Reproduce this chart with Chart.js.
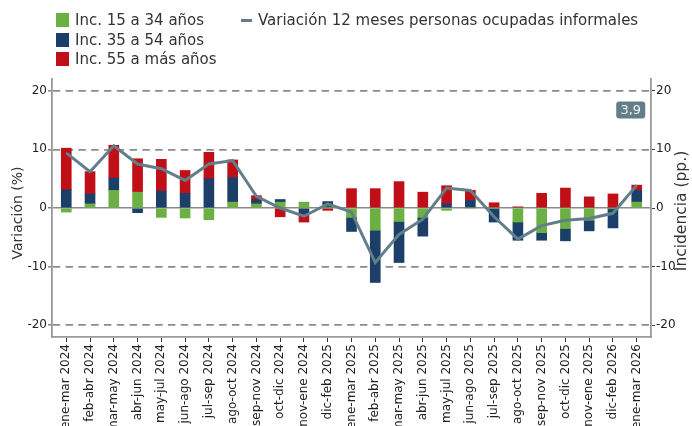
<!DOCTYPE html>
<html>
<head>
<meta charset="utf-8">
<script src="https://cdn.jsdelivr.net/npm/chart.js@4.4.1/dist/chart.umd.min.js"></script>
<style>
  html, body { margin: 0; padding: 0; background: #fff; overflow: hidden; }
  .wrap { position: relative; width: 692px; height: 426px; }
  .legend { position: absolute; left: 0; top: 0; font: 15px "DejaVu Sans"; color: #333; }
  .legend-item { position: absolute; display: flex; align-items: center; height: 20px; white-space: nowrap; }
  .legend-box { width: 13px; height: 14px; margin-right: 6px; }
  .legend-line { width: 11px; height: 3px; margin-right: 6px; }
</style>
</head>
<body>
<div class="wrap">
  <canvas id="chart"></canvas>
  <div class="legend"></div>
</div>
<script>
const categories = [
  'ene-mar 2024', 'feb-abr 2024', 'mar-may 2024', 'abr-jun 2024', 'may-jul 2024',
  'jun-ago 2024', 'jul-sep 2024', 'ago-oct 2024', 'sep-nov 2024', 'oct-dic 2024',
  'nov-ene 2024', 'dic-feb 2025', 'ene-mar 2025', 'feb-abr 2025', 'mar-may 2025',
  'abr-jun 2025', 'may-jul 2025', 'jun-ago 2025', 'jul-sep 2025', 'ago-oct 2025',
  'sep-nov 2025', 'oct-dic 2025', 'nov-ene 2025', 'dic-feb 2026', 'ene-mar 2026'
];

const inc15a34 = [-0.7, 0.7, 3.0, 2.7, -1.6, -1.7, -2.0, 1.0, 0.7, 1.0, 1.0, 0.1, -1.6,
  -3.8, -2.3, -1.6, -0.4, 0.0, 0.0, -2.4, -4.2, -3.5, -2.1, -0.1, 1.0];
const inc35a54 = [3.1, 1.7, 2.1, -0.8, 2.9, 2.5, 5.0, 4.2, 0.7, 0.45, -1.0, 1.0, -2.4,
  -8.9, -7.0, -3.2, 0.7, 1.3, -2.4, -3.1, -1.3, -2.1, -1.8, -3.3, 2.0];
const inc55mas = [7.1, 3.8, 5.6, 5.7, 5.4, 3.9, 4.5, 3.0, 0.7, -1.5, -1.4, -0.4, 3.3,
  3.3, 4.5, 2.7, 3.1, 1.7, 0.9, 0.2, 2.5, 3.4, 1.9, 2.4, 0.9];
const variacion = [9.4, 6.2, 10.6, 7.5, 6.7, 4.7, 7.5, 8.1, 2.0, 0.0, -1.4, 0.7, -0.7,
  -9.3, -4.5, -1.9, 3.4, 3.0, -1.5, -5.3, -3.0, -2.1, -1.8, -0.9, 3.9];

const yTicks = [-20, -10, 0, 10, 20];

const GREEN = '#6cb043';
const BLUE = '#1c3f69';
const RED = '#c00f17';
const LINE = '#627f89';

Chart.defaults.font.family = '"DejaVu Sans"';

const toPoints = (arr) => arr.map((v, i) => ({ x: i, y: v }));

// y titles: matplotlib style, both read bottom to top
const axisTitles = {
  id: 'axisTitles',
  afterDraw(chart) {
    const { ctx, chartArea } = chart;
    const mid = chartArea.top + chartArea.height / 2;
    ctx.save();
    ctx.fillStyle = '#333';
    ctx.textAlign = 'center';
    ctx.textBaseline = 'middle';
    ctx.font = '14px "DejaVu Sans"';
    ctx.translate(18.5, mid + 5);
    ctx.rotate(-Math.PI / 2);
    ctx.fillText('Variación (%)', 0, 0);
    ctx.restore();

    ctx.save();
    ctx.fillStyle = '#333';
    ctx.textAlign = 'center';
    ctx.textBaseline = 'middle';
    ctx.font = '15.5px "DejaVu Sans"';
    ctx.translate(682, mid + 3);
    ctx.rotate(-Math.PI / 2);
    ctx.fillText('Incidencia (pp.)', 0, 0);
    ctx.restore();
  },
};

// last value tag
const lastTag = {
  id: 'lastTag',
  afterDatasetsDraw(chart) {
    const { ctx, scales } = chart;
    const last = variacion.length - 1;
    const text = variacion[last].toFixed(1).replace('.', ',');
    const cx = scales.x.getPixelForValue(last) - 6;
    const cy = scales.y.getPixelForValue(16.7);
    const w = 29, h = 17, r = 3;
    const x = cx - w / 2, y = cy - h / 2;
    ctx.save();
    ctx.fillStyle = LINE;
    ctx.beginPath();
    ctx.moveTo(x + r, y);
    ctx.lineTo(x + w - r, y);
    ctx.quadraticCurveTo(x + w, y, x + w, y + r);
    ctx.lineTo(x + w, y + h - r);
    ctx.quadraticCurveTo(x + w, y + h, x + w - r, y + h);
    ctx.lineTo(x + r, y + h);
    ctx.quadraticCurveTo(x, y + h, x, y + h - r);
    ctx.lineTo(x, y + r);
    ctx.quadraticCurveTo(x, y, x + r, y);
    ctx.fill();
    ctx.fillStyle = '#f2f2f2';
    ctx.font = '13px "DejaVu Sans"';
    ctx.textAlign = 'center';
    ctx.textBaseline = 'middle';
    ctx.fillText(text, cx, cy + 0.5);
    ctx.restore();
  },
};

const barSet = (label, data, color) => ({
  type: 'bar',
  label: label,
  data: toPoints(data),
  backgroundColor: color,
  borderWidth: 0,
  barThickness: 10,
  order: 1,
});

const ctx = document.getElementById('chart').getContext('2d');
const chart = new Chart(ctx, {
  type: 'bar',
  data: {
    datasets: [
      barSet('Inc. 15 a 34 años', inc15a34, GREEN),
      barSet('Inc. 35 a 54 años', inc35a54, BLUE),
      barSet('Inc. 55 a más años', inc55mas, RED),
      {
        type: 'line',
        label: 'Variación 12 meses personas ocupadas informales',
        data: toPoints(variacion),
        borderColor: LINE,
        backgroundColor: LINE,
        borderWidth: 3,
        pointRadius: 0,
        tension: 0,
        order: 0,
      },
    ],
  },
  options: {
    responsive: true,
    maintainAspectRatio: false,
    animation: false,
    layout: { padding: { top: 79, left: 0, right: 0, bottom: 0 } },
    plugins: {
      legend: { display: false },
      tooltip: { enabled: false },
    },
    scales: {
      x: {
        type: 'linear',
        stacked: true,
        offset: false,
        min: -0.6,
        max: categories.length - 0.4,
        afterBuildTicks: (scale) => {
          scale.ticks = categories.map((c, i) => ({ value: i }));
        },
        afterFit: (scale) => { scale.height = 89; },
        grid: {
          offset: false,
          drawOnChartArea: false,
          drawTicks: true,
          tickLength: 5,
          tickColor: '#333',
          tickWidth: 1,
        },
        border: { display: true, color: '#9a9a9a', width: 1.8 },
        ticks: {
          autoSkip: false,
          minRotation: 90,
          maxRotation: 90,
          padding: 2,
          color: '#222',
          font: { size: 12 },
          callback: (value) => categories[value],
        },
      },
      y: {
        position: 'left',
        stacked: true,
        min: -22,
        max: 22,
        afterBuildTicks: (scale) => {
          scale.ticks = yTicks.map((v) => ({ value: v }));
        },
        afterFit: (scale) => { scale.width = 52; },
        grid: {
          drawTicks: true,
          tickLength: 4,
          tickColor: '#444',
          tickWidth: 1,
          tickBorderDash: [],
          color: (c) => (c.tick && c.tick.value === 0 ? '#8a8a8a' : '#8c8c8c'),
          lineWidth: (c) => (c.tick && c.tick.value === 0 ? 1.6 : 1.7),
        },
        border: {
          display: true,
          color: '#9a9a9a',
          width: 1.8,
          dash: (c) => (c.tick && c.tick.value !== 0 ? [7.4, 5.4] : []),
        },
        ticks: { padding: 1, color: '#222', font: { size: 12 } },
      },
      y2: {
        position: 'right',
        min: -22,
        max: 22,
        afterBuildTicks: (scale) => {
          scale.ticks = yTicks.map((v) => ({ value: v }));
        },
        afterFit: (scale) => { scale.width = 41; },
        grid: {
          drawOnChartArea: false,
          drawTicks: true,
          tickLength: 4,
          tickColor: '#444',
          tickWidth: 1,
        },
        border: { display: true, color: '#9a9a9a', width: 1.8 },
        ticks: { padding: 1, color: '#222', font: { size: 12 } },
      },
    },
  },
  plugins: [axisTitles, lastTag],
});

// html legend, laid out like the original: bars in one column, line beside
const legendSpots = [
  { left: 56, top: 10 },
  { left: 56, top: 29.5 },
  { left: 56, top: 49 },
  { left: 241, top: 10 },
];
const legendEl = document.querySelector('.legend');
chart.data.datasets.forEach((ds, i) => {
  const item = document.createElement('div');
  item.classList.add('legend-item');
  item.style.left = legendSpots[i].left + 'px';
  item.style.top = legendSpots[i].top + 'px';
  const mark = ds.type === 'line' ? 'legend-line' : 'legend-box';
  item.innerHTML = `<span class="${mark}" style="background:${ds.backgroundColor}"></span><span>${ds.label}</span>`;
  legendEl.appendChild(item);
});
</script>
</body>
</html>
